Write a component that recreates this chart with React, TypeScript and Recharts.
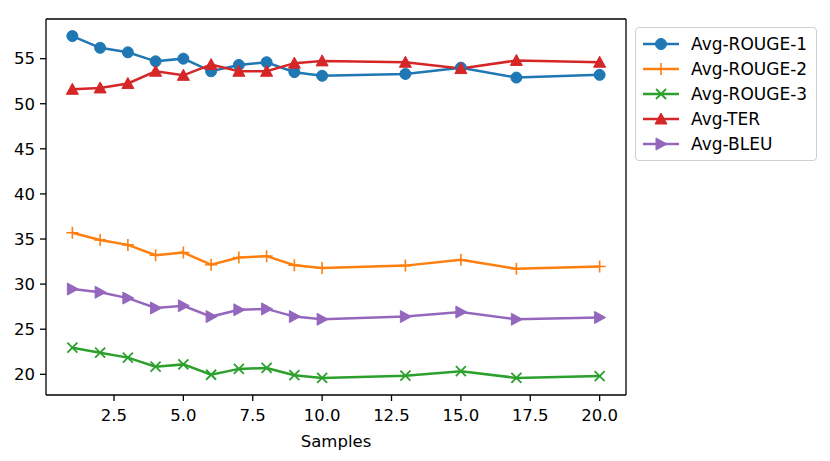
import { LineChart, Line, XAxis, YAxis, Legend, ReferenceLine } from "recharts";

const samples = [1, 2, 3, 4, 5, 6, 7, 8, 9, 10, 13, 15, 17, 20];
const rouge1 = [57.5, 56.2, 55.7, 54.7, 55.0, 53.6, 54.3, 54.6, 53.5, 53.1, 53.3, 54.0, 52.9, 53.2];
const rouge2 = [35.7, 34.9, 34.35, 33.2, 33.5, 32.15, 32.95, 33.1, 32.1, 31.8, 32.05, 32.7, 31.7, 31.95];
const rouge3 = [22.95, 22.4, 21.85, 20.85, 21.1, 19.95, 20.6, 20.7, 19.9, 19.6, 19.85, 20.35, 19.6, 19.8];
const ter = [51.6, 51.75, 52.25, 53.6, 53.15, 54.35, 53.6, 53.6, 54.5, 54.75, 54.6, 53.9, 54.8, 54.6];
const bleu = [29.45, 29.1, 28.45, 27.35, 27.6, 26.4, 27.15, 27.25, 26.4, 26.1, 26.4, 26.9, 26.1, 26.3];

const xTicks = [2.5, 5, 7.5, 10, 12.5, 15, 17.5, 20];
const yTicks = [20, 25, 30, 35, 40, 45, 50, 55];

const series = [
  { key: "r1", name: "Avg-ROUGE-1", color: "#1f77b4", marker: "o" },
  { key: "r2", name: "Avg-ROUGE-2", color: "#ff7f0e", marker: "+" },
  { key: "r3", name: "Avg-ROUGE-3", color: "#2ca02c", marker: "x" },
  { key: "ter", name: "Avg-TER", color: "#d62728", marker: "^" },
  { key: "bleu", name: "Avg-BLEU", color: "#9467bd", marker: ">" },
];

const data = samples.map((s, i) => ({
  s,
  r1: rouge1[i],
  r2: rouge2[i],
  r3: rouge3[i],
  ter: ter[i],
  bleu: bleu[i],
}));

const FONT = "'DejaVu Sans', sans-serif";
const X_DOMAIN: [number, number] = [0.05, 20.95];
const Y_DOMAIN: [number, number] = [17.705, 59.395];

function Marker({ cx, cy, shape, color }: { cx: number; cy: number; shape: string; color: string }) {
  if (shape === "o") return <circle cx={cx} cy={cy} r={5.5} fill={color} stroke={color} strokeWidth={1} />;
  if (shape === "+")
    return (
      <path d={`M${cx - 6},${cy}H${cx + 6}M${cx},${cy - 6}V${cy + 6}`} stroke={color} strokeWidth={1.6} fill="none" />
    );
  if (shape === "x")
    return (
      <path
        d={`M${cx - 5},${cy - 5}L${cx + 5},${cy + 5}M${cx - 5},${cy + 5}L${cx + 5},${cy - 5}`}
        stroke={color}
        strokeWidth={1.8}
        fill="none"
      />
    );
  if (shape === "^")
    return (
      <path d={`M${cx},${cy - 6}L${cx - 6},${cy + 5}L${cx + 6},${cy + 5}Z`} fill={color} stroke={color} strokeWidth={1} />
    );
  return <path d={`M${cx + 6},${cy}L${cx - 5},${cy - 6}L${cx - 5},${cy + 6}Z`} fill={color} stroke={color} strokeWidth={1} />;
}

function LegendBox() {
  return (
    <div
      style={{
        border: "1px solid #d0d0d0",
        borderRadius: 4,
        background: "rgba(255,255,255,0.8)",
        padding: "3px 8px 4px 6px",
        fontFamily: FONT,
        fontSize: 17,
        color: "#000",
        width: 166,
      }}
    >
      {series.map((s) => (
        <div key={s.key} style={{ display: "flex", alignItems: "center", height: 25 }}>
          <svg width={48} height={20} style={{ flex: "none" }}>
            <line x1={1} x2={37} y1={10} y2={10} stroke={s.color} strokeWidth={2.5} />
            <Marker cx={19} cy={10} shape={s.marker} color={s.color} />
          </svg>
          <span style={{ marginLeft: 1, lineHeight: "20px", whiteSpace: "nowrap" }}>{s.name}</span>
        </div>
      ))}
    </div>
  );
}

export default function App() {
  return (
    <div style={{ position: "absolute", left: 0, top: 0, width: 830, height: 461, background: "#fff" }}>
      <LineChart width={830} height={461} data={data} margin={{ top: 19, right: 204, bottom: 0, left: 0 }}>
        <XAxis
          dataKey="s"
          type="number"
          domain={X_DOMAIN}
          allowDataOverflow
          ticks={xTicks}
          tickFormatter={(v: number) => v.toFixed(1)}
          tick={{ fill: "#000", fontSize: 16.5, fontFamily: FONT }}
          tickSize={6}
          tickMargin={8}
          axisLine={{ stroke: "#000", strokeWidth: 1.3 }}
          tickLine={{ stroke: "#000", strokeWidth: 1.3 }}
          height={66}
          label={{ value: "Samples", position: "insideBottom", offset: 14, fill: "#000", fontSize: 16.5, fontFamily: FONT }}
        />
        <YAxis
          type="number"
          domain={Y_DOMAIN}
          allowDataOverflow
          ticks={yTicks}
          tick={{ fill: "#000", fontSize: 16.5, fontFamily: FONT }}
          tickSize={6}
          tickMargin={5}
          axisLine={{ stroke: "#000", strokeWidth: 1.3 }}
          tickLine={{ stroke: "#000", strokeWidth: 1.3 }}
          width={46}
        />
        <ReferenceLine y={Y_DOMAIN[1]} stroke="#000" strokeWidth={1.3} />
        <ReferenceLine x={X_DOMAIN[1]} stroke="#000" strokeWidth={1.3} />
        {series.map((s) => (
          <Line
            key={s.key}
            dataKey={s.key}
            name={s.name}
            stroke={s.color}
            strokeWidth={2.5}
            isAnimationActive={false}
            dot={(p: any) => (
              <Marker key={`${s.key}-${p.index}`} cx={p.cx} cy={p.cy} shape={s.marker} color={s.color} />
            )}
            activeDot={false}
          />
        ))}
        <Legend
          layout="vertical"
          align="center"
          verticalAlign="middle"
          wrapperStyle={{ left: 635, top: 27, width: "auto" }}
          content={() => <LegendBox />}
        />
      </LineChart>
    </div>
  );
}
